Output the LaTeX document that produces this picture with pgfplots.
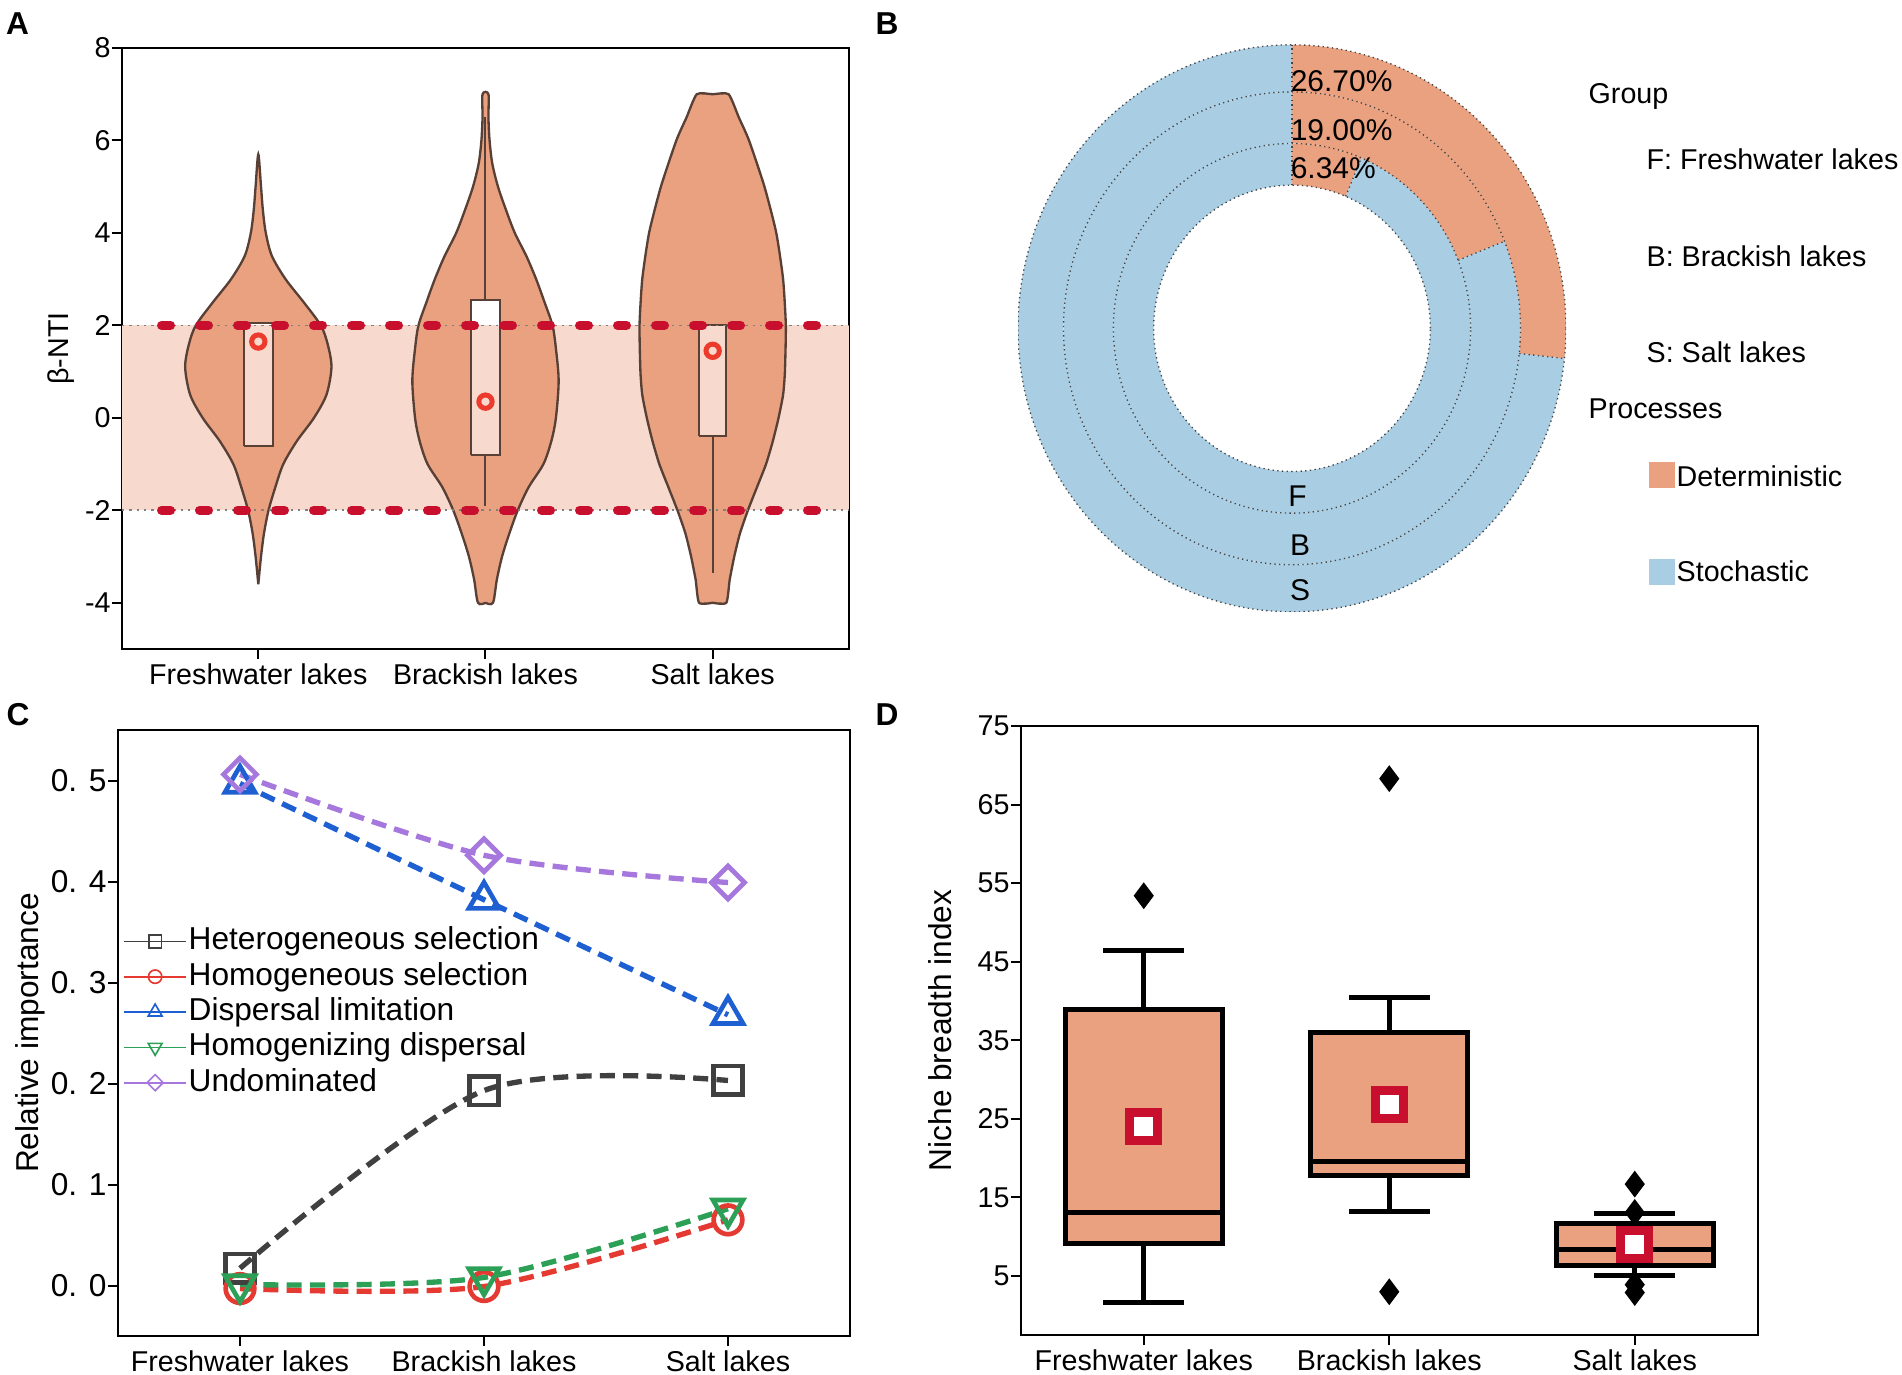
\documentclass[border=0pt]{standalone}
\usepackage{fontspec}
\setmainfont{Liberation Sans}
\usepackage{pgfplots}
\pgfplotsset{compat=1.18}

\definecolor{deter}{RGB}{234,161,128}
\definecolor{stoch}{RGB}{169,206,228}
\definecolor{band}{RGB}{247,218,205}
\definecolor{crimson}{RGB}{200,16,46}
\definecolor{meanred}{RGB}{236,58,45}
\definecolor{vline}{RGB}{88,64,54}
\definecolor{hetgray}{RGB}{64,64,64}
\definecolor{homred}{RGB}{228,58,50}
\definecolor{dlblue}{RGB}{30,96,210}
\definecolor{hdgreen}{RGB}{44,160,86}
\definecolor{undpurple}{RGB}{166,120,222}
\definecolor{bord}{RGB}{70,70,70}

\newcommand\tfont{\fontsize{8.6}{10}\selectfont}
\newcommand\lfont{\fontsize{9.5}{11}\selectfont}

% percentages of deterministic processes (donut)
\def\pF{6.34}
\def\pB{19.00}
\def\pS{26.70}

% ring sector: outer r, inner r, start angle, end angle, colour
\newcommand{\ringsec}[5]{%
  \fill[#5] (axis cs:0,0) ++({#3}:{82.2pt*#1} and {85.05pt*#1})
    arc[start angle={#3}, end angle={#4}, x radius={82.2pt*#1}, y radius={85.05pt*#1}]
    -- ++({#4+180}:{82.2pt*(#1-#2)} and {85.05pt*(#1-#2)})
    arc[start angle={#4}, end angle={#3}, x radius={82.2pt*#2}, y radius={85.05pt*#2}] -- cycle;}
\newcommand{\radline}[3]{%
  \draw[bord, densely dotted, line width=0.4pt] (axis cs:0,0) ++({#3}:{82.2pt*#2} and {85.05pt*#2})
    -- ++({#3}:{82.2pt*(#1-#2)} and {85.05pt*(#1-#2)});}

\pgfplotsset{
  panel/.style={scale only axis, anchor=south west, tick align=outside,
    xtick pos=left, ytick pos=left, major tick length=3pt,
    axis line style={line width=0.6pt},
    tick style={black, line width=0.6pt},
    ticklabel style={font=\tfont},
    yticklabel style={xshift=3.1pt},
    xticklabel style={yshift=2.2pt},
    label style={font=\lfont},
    xtick={1,2,3}, xticklabels={Freshwater lakes,Brackish lakes,Salt lakes}},
  bx/.style={black, line width=1.5pt, line join=miter},
}

\begin{document}
\begin{tikzpicture}
\path[use as bounding box] (0,0) rectangle (570.6pt,412.5pt);

% ---------------- A ----------------
\begin{axis}[panel, at={(36.6pt,217.8pt)}, width=218.1pt, height=180.3pt,
  xmin=0.4, xmax=3.6, ymin=-5, ymax=8,
  ytick={-4,-2,0,2,4,6,8}, yticklabels={-4,-2,0,2,4,6,8},
  ylabel={β-NTI}, ylabel style={at={(axis description cs:-0.084,0.5)}, anchor=center, font=\tfont}]
\addplot[fill=band, draw=none] coordinates {(0.4,-2) (3.6,-2) (3.6,2) (0.4,2)};
% violins
\addplot[fill=deter, draw=vline, line width=0.7pt, smooth, tension=0.5] coordinates {
 (1,-3.6) (1.012,-3.0) (1.025,-2.5) (1.045,-2.0) (1.075,-1.5) (1.11,-1.0) (1.17,-0.5)
 (1.245,0) (1.30,0.5) (1.322,1.1) (1.305,1.6) (1.275,2.0) (1.20,2.5) (1.12,3.0)
 (1.06,3.5) (1.033,4.0) (1.02,4.5) (1.012,5.0) (1,5.7) (0.988,5.0) (0.98,4.5)
 (0.967,4.0) (0.94,3.5) (0.88,3.0) (0.80,2.5) (0.725,2.0) (0.695,1.6) (0.678,1.1)
 (0.70,0.5) (0.755,0) (0.83,-0.5) (0.89,-1.0) (0.925,-1.5) (0.955,-2.0) (0.975,-2.5)
 (0.988,-3.0) (1,-3.6)};
\addplot[fill=deter, draw=vline, line width=0.7pt, smooth, tension=0.5] coordinates {
 (2,-4) (2.033,-4) (2.05,-3.5) (2.073,-3.0) (2.105,-2.5) (2.142,-2.0) (2.19,-1.5)
 (2.255,-1.0) (2.29,-0.5) (2.31,0) (2.322,0.8) (2.31,1.5) (2.295,2.0) (2.26,2.5)
 (2.223,3.0) (2.18,3.5) (2.129,4.0) (2.09,4.5) (2.055,5.0) (2.03,5.5) (2.018,6.0)
 (2.013,6.5) (2.013,7.0) (1.987,7.0) (1.987,6.5) (1.982,6.0) (1.97,5.5) (1.945,5.0)
 (1.91,4.5) (1.871,4.0) (1.82,3.5) (1.777,3.0) (1.74,2.5) (1.705,2.0) (1.69,1.5)
 (1.678,0.8) (1.69,0) (1.71,-0.5) (1.745,-1.0) (1.81,-1.5) (1.858,-2.0) (1.895,-2.5)
 (1.927,-3.0) (1.95,-3.5) (1.967,-4) (2,-4)};
\addplot[fill=deter, draw=vline, line width=0.7pt, smooth, tension=0.35] coordinates {
 (3,-4) (3.06,-4) (3.075,-3.5) (3.095,-3.0) (3.12,-2.5) (3.155,-2.0) (3.195,-1.5)
 (3.235,-1.0) (3.265,-0.5) (3.29,0) (3.31,0.5) (3.318,1.0) (3.322,2.0) (3.31,3.0)
 (3.28,4.0) (3.228,5.0) (3.16,6.0) (3.115,6.5) (3.07,7.0) (3,7.0) (2.93,7.0)
 (2.885,6.5) (2.84,6.0) (2.772,5.0) (2.72,4.0) (2.69,3.0) (2.678,2.0) (2.682,1.0)
 (2.69,0.5) (2.71,0) (2.735,-0.5) (2.765,-1.0) (2.805,-1.5) (2.845,-2.0) (2.88,-2.5)
 (2.905,-3.0) (2.925,-3.5) (2.94,-4) (3,-4)};
% boxes
\addplot[fill=white, draw=none] coordinates {(0.937,-0.6) (1.063,-0.6) (1.063,2.05) (0.937,2.05)};
\addplot[fill=band, draw=none] coordinates {(0.937,-0.6) (1.063,-0.6) (1.063,2) (0.937,2)};
\addplot[draw=vline, line width=0.6pt] coordinates {(0.937,-0.6) (1.063,-0.6) (1.063,2.05) (0.937,2.05) (0.937,-0.6)};
\addplot[fill=white, draw=none] coordinates {(1.937,-0.8) (2.063,-0.8) (2.063,2.55) (1.937,2.55)};
\addplot[fill=band, draw=none] coordinates {(1.937,-0.8) (2.063,-0.8) (2.063,2) (1.937,2)};
\addplot[draw=vline, line width=0.6pt] coordinates {(1.937,-0.8) (2.063,-0.8) (2.063,2.55) (1.937,2.55) (1.937,-0.8)};
\addplot[fill=white, draw=none] coordinates {(2.94,-0.4) (3.06,-0.4) (3.06,2.0) (2.94,2.0)};
\addplot[fill=band, draw=none] coordinates {(2.94,-0.4) (3.06,-0.4) (3.06,2) (2.94,2)};
\addplot[draw=vline, line width=0.6pt] coordinates {(2.94,-0.4) (3.06,-0.4) (3.06,2.0) (2.94,2.0) (2.94,-0.4)};
% whiskers
\addplot[vline, line width=0.6pt] coordinates {(2,2.55) (2,6.5)};
\addplot[vline, line width=0.6pt] coordinates {(2,-0.8) (2,-1.9)};
\addplot[vline, line width=0.6pt] coordinates {(3,-0.4) (3,-3.35)};
% thresholds
\addplot[gray, line width=0.5pt, dash pattern=on 0.7pt off 1.5pt] coordinates {(0.4,2) (3.6,2)};
\addplot[gray, line width=0.5pt, dash pattern=on 0.7pt off 1.5pt] coordinates {(0.4,-2) (3.6,-2)};
\addplot[crimson, line width=2.7pt, line cap=round, dash pattern=on 2.7pt off 8.7pt] coordinates {(0.574,2) (3.56,2)};
\addplot[crimson, line width=2.7pt, line cap=round, dash pattern=on 2.7pt off 8.7pt] coordinates {(0.574,-2) (3.56,-2)};
% means
\addplot[only marks, mark=o, mark size=2pt, mark options={draw=meanred, line width=1.5pt}] coordinates {(1,1.65) (2,0.35) (3,1.45)};
\end{axis}

% ---------------- B ----------------
\begin{axis}[at={(305.4pt,228.95pt)}, anchor=south west, scale only axis,
  width=164.4pt, height=170.1pt, hide axis, xmin=-1, xmax=1, ymin=-1, ymax=1]
\ringsec{0.652}{0.505}{90}{90-3.6*\pF}{deter}
\ringsec{0.652}{0.505}{90-3.6*\pF}{-270}{stoch}
\ringsec{0.834}{0.652}{90}{90-3.6*\pB}{deter}
\ringsec{0.834}{0.652}{90-3.6*\pB}{-270}{stoch}
\ringsec{1.000}{0.834}{90}{90-3.6*\pS}{deter}
\ringsec{1.000}{0.834}{90-3.6*\pS}{-270}{stoch}
\draw[bord, densely dotted, line width=0.4pt] (axis cs:0,0) ellipse[x radius=82.2pt, y radius=85.05pt];
\draw[bord, densely dotted, line width=0.4pt] (axis cs:0,0) ellipse[x radius=68.55pt, y radius=70.93pt];
\draw[bord, densely dotted, line width=0.4pt] (axis cs:0,0) ellipse[x radius=53.59pt, y radius=55.45pt];
\draw[bord, densely dotted, line width=0.4pt] (axis cs:0,0) ellipse[x radius=41.51pt, y radius=42.95pt];
\radline{1.000}{0.505}{90}
\radline{0.652}{0.505}{90-3.6*\pF}
\radline{0.834}{0.652}{90-3.6*\pB}
\radline{1.000}{0.834}{90-3.6*\pS}
\node[anchor=west, inner sep=0pt, font=\fontsize{9}{10}\selectfont] at (axis cs:-0.007,0.873) {26.70\%};
\node[anchor=west, inner sep=0pt, font=\fontsize{9}{10}\selectfont] at (axis cs:-0.007,0.700) {19.00\%};
\node[anchor=west, inner sep=0pt, font=\fontsize{9}{10}\selectfont] at (axis cs:-0.007,0.566) {6.34\%};
\node[inner sep=0pt, font=\fontsize{9}{10}\selectfont] at (axis cs:0.02,-0.591) {F};
\node[inner sep=0pt, font=\fontsize{9}{10}\selectfont] at (axis cs:0.03,-0.764) {B};
\node[inner sep=0pt, font=\fontsize{9}{10}\selectfont] at (axis cs:0.03,-0.922) {S};
\end{axis}
\begin{scope}[every node/.style={anchor=west, inner sep=0pt, font=\tfont}]
\node at (476.4pt,383.55pt) {Group};
\node at (493.8pt,364.8pt) {F: Freshwater lakes};
\node at (493.8pt,335.7pt) {B: Brackish lakes};
\node at (493.8pt,306.9pt) {S: Salt lakes};
\node at (476.4pt,289.8pt) {Processes};
\fill[deter] (494.7pt,266.1pt) rectangle (502.5pt,273.9pt);
\node at (502.8pt,269.7pt) {Deterministic};
\fill[stoch] (494.7pt,237.0pt) rectangle (502.5pt,244.8pt);
\node at (502.8pt,241.2pt) {Stochastic};
\end{scope}

% ---------------- C ----------------
\begin{axis}[panel, at={(35.4pt,11.7pt)}, width=219.6pt, height=181.8pt,
  xmin=0.5, xmax=3.5, ymin=-0.05, ymax=0.55,
  ytick={0,0.1,0.2,0.3,0.4,0.5}, yticklabels={0. 0,0. 1,0. 2,0. 3,0. 4,0. 5},
  yticklabel style={font=\lfont},
  ylabel={Relative importance}, ylabel style={at={(axis description cs:-0.12,0.5)}, anchor=center},
  legend style={at={(axis description cs:0.0068,0.6815)}, anchor=north west, draw=none, fill=none,
    inner sep=0pt, font=\lfont, row sep=0pt, nodes={inner sep=0.6pt, text height=7.2pt, text depth=2.2pt}},
  legend cell align=left,
  legend image code/.code={\draw[mark repeat=2, mark phase=2, #1] plot coordinates {(0pt,0pt) (9.2pt,0pt) (18.4pt,0pt)};}]
\addplot[forget plot, smooth, hetgray, line width=1.6pt, dash pattern=on 4.5pt off 2.5pt,
  mark=square, mark size=4.3pt, mark options={solid, fill=white, line width=1.4pt}]
  coordinates {(1,0.017) (2,0.193) (3,0.203)};
\addplot[forget plot, smooth, homred, line width=1.6pt, dash pattern=on 4.5pt off 2.5pt,
  mark=o, mark size=4.3pt, mark options={solid, fill=white, line width=1.4pt}]
  coordinates {(1,-0.003) (2,-0.001) (3,0.065)};
\addplot[forget plot, smooth, hdgreen, line width=1.6pt, dash pattern=on 4.5pt off 2.5pt,
  mark=triangle, mark size=5.2pt, mark options={solid, fill=white, line width=1.4pt, rotate=180}]
  coordinates {(1,0.001) (2,0.008) (3,0.076)};
\addplot[forget plot, smooth, dlblue, line width=1.6pt, dash pattern=on 4.5pt off 2.5pt,
  mark=triangle, mark size=5.2pt, mark options={solid, fill=white, line width=1.4pt}]
  coordinates {(1,0.497) (2,0.382) (3,0.268)};
\addplot[forget plot, smooth, undpurple, line width=1.6pt, dash pattern=on 4.5pt off 2.5pt,
  mark=square, mark size=3.5pt, mark options={solid, fill=white, line width=1.4pt, rotate=45}]
  coordinates {(1,0.506) (2,0.426) (3,0.399)};
\addlegendimage{hetgray, line width=0.5pt, mark=square, mark size=1.9pt, mark options={fill=white}}
\addlegendentry{Heterogeneous selection}
\addlegendimage{homred, line width=0.5pt, mark=o, mark size=2pt, mark options={fill=white}}
\addlegendentry{Homogeneous selection}
\addlegendimage{dlblue, line width=0.5pt, mark=triangle, mark size=2.4pt, mark options={fill=white}}
\addlegendentry{Dispersal limitation}
\addlegendimage{hdgreen, line width=0.5pt, mark=triangle, mark size=2.4pt, mark options={fill=white, rotate=180}}
\addlegendentry{Homogenizing dispersal}
\addlegendimage{undpurple, line width=0.5pt, mark=square, mark size=1.7pt, mark options={fill=white, rotate=45}}
\addlegendentry{Undominated}
\end{axis}

% ---------------- D ----------------
\begin{axis}[panel, at={(306.3pt,12pt)}, width=220.95pt, height=182.7pt,
  xmin=0.5, xmax=3.5, ymin=-2.5, ymax=75,
  ytick={5,15,25,35,45,55,65,75}, yticklabels={5,15,25,35,45,55,65,75},
  ylabel={Niche breadth index}, ylabel style={at={(axis description cs:-0.11,0.5)}, anchor=center}]
% whiskers and caps
\addplot[bx] coordinates {(1,38.9) (1,46.4)};
\addplot[bx] coordinates {(0.836,46.4) (1.164,46.4)};
\addplot[bx] coordinates {(1,9.14) (1,1.65)};
\addplot[bx] coordinates {(0.836,1.65) (1.164,1.65)};
\addplot[bx] coordinates {(2,35.95) (2,40.4)};
\addplot[bx] coordinates {(1.836,40.4) (2.164,40.4)};
\addplot[bx] coordinates {(2,17.75) (2,13.2)};
\addplot[bx] coordinates {(1.836,13.2) (2.164,13.2)};
\addplot[bx] coordinates {(3,11.7) (3,13.0)};
\addplot[bx] coordinates {(2.836,13.0) (3.164,13.0)};
\addplot[bx] coordinates {(3,6.3) (3,5.06)};
\addplot[bx] coordinates {(2.836,5.06) (3.164,5.06)};
% boxes (Q1 to Q3) and medians
\addplot[bx, fill=deter] coordinates {(1,9.14) (1.32,9.14) (1.32,38.9) (0.68,38.9) (0.68,9.14) (1,9.14)};
\addplot[bx] coordinates {(0.68,13.1) (1.32,13.1)};
\addplot[bx, fill=deter] coordinates {(2,17.75) (2.32,17.75) (2.32,35.95) (1.68,35.95) (1.68,17.75) (2,17.75)};
\addplot[bx] coordinates {(1.68,19.6) (2.32,19.6)};
\addplot[bx, fill=deter] coordinates {(3,6.3) (3.32,6.3) (3.32,11.7) (2.68,11.7) (2.68,6.3) (3,6.3)};
\addplot[bx] coordinates {(2.68,8.4) (3.32,8.4)};
% outliers and means
\addplot[only marks, mark=diamond*, mark size=3.7pt, black]
  coordinates {(1,53.4) (2,68.3) (2,3.0) (3,16.7) (3,13.1) (3,3.9) (3,2.9)};
\addplot[only marks, mark=square*, mark size=4.2pt, mark options={fill=white, draw=crimson, line width=2.6pt}]
  coordinates {(1,24.0) (2,26.8) (3,9.0)};
\end{axis}

% panel letters
\begin{scope}[every node/.style={font=\bfseries\fontsize{9.5}{11}\selectfont, inner sep=0pt}]
\node at (5.3pt,405.5pt) {A};
\node at (266.1pt,405.5pt) {B};
\node at (5.4pt,198.0pt) {C};
\node at (266.1pt,198.0pt) {D};
\end{scope}
\end{tikzpicture}
\end{document}
